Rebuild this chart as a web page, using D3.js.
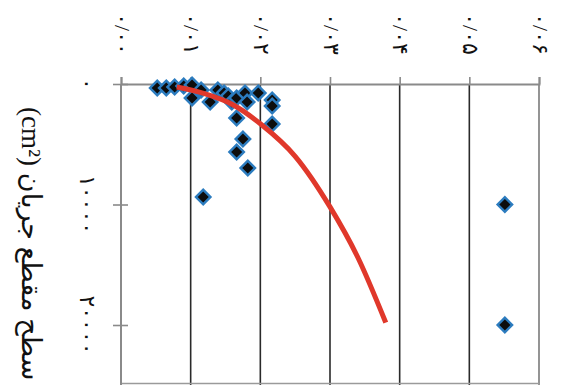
<!DOCTYPE html>
<html>
<head>
<meta charset="utf-8">
<script src="https://cdn.jsdelivr.net/npm/d3@7/dist/d3.min.js"></script>
<style>
  html, body { margin: 0; padding: 0; background: #fff; }
  svg { display: block; }
</style>
</head>
<body>
<svg id="chart" width="561" height="385"></svg>
<script>
// Velocity-like quantity (horizontal) against flow cross-section area (vertical, cm²)
const xTicks = [0, 0.01, 0.02, 0.03, 0.04, 0.05, 0.06];
const xTickLabels = ["۰/۰۰", "۰/۰۱", "۰/۰۲", "۰/۰۳", "۰/۰۴", "۰/۰۵", "۰/۰۶"];
const yTicks = [0, 10000, 20000];
const yTickLabels = ["۰", "۱۰۰۰۰", "۲۰۰۰۰"];
const yTitle = "سطح مقطع جریان (cm²)";

// measured points
const pointX = [0.0052, 0.0065, 0.0077, 0.0090, 0.0102, 0.0102, 0.0115, 0.0128, 0.0139,
                0.0148, 0.0154, 0.0159, 0.0166, 0.0178, 0.0181, 0.0197, 0.0217, 0.0217,
                0.0166, 0.0217, 0.0175, 0.0166, 0.0182, 0.0118, 0.0551, 0.0551];
const pointY = [330, 330, 250, 170, 80, 1160, 500, 1490, 500,
                750, 1000, 1490, 1160, 750, 1490, 750, 1330, 1830,
                2820, 3320, 4560, 5640, 6970, 9380, 10000, 20000];

// fitted trend line
const curveX = [0.0080, 0.0120, 0.0160, 0.0200, 0.0250, 0.0300, 0.0340, 0.0380];
const curveY = [250, 800, 1700, 3300, 6000, 10200, 14400, 19800];

const svg = d3.select("#chart");
const W = 561, H = 385;

const x = d3.scaleLinear().domain([0, 0.06]).range([121, 539]);
const y = d3.scaleLinear().domain([0, 25000]).range([84, 385.25]);

const labelFont = "'Liberation Serif', 'DejaVu Sans', serif";

// vertical grid lines
svg.append("g")
  .selectAll("line")
  .data(xTicks.slice(1, -1))
  .join("line")
  .attr("x1", d => x(d)).attr("x2", d => x(d))
  .attr("y1", y(0)).attr("y2", H)
  .attr("stroke", "#2a2a2a")
  .attr("stroke-width", 1.6);

// right and bottom frame edges
svg.append("line")
  .attr("x1", x(0.06)).attr("x2", x(0.06))
  .attr("y1", y(0)).attr("y2", H)
  .attr("stroke", "#7a7a7a").attr("stroke-width", 1.6);
svg.append("line")
  .attr("x1", x(0)).attr("x2", x(0.06))
  .attr("y1", H - 1.5).attr("y2", H - 1.5)
  .attr("stroke", "#9a9a9a").attr("stroke-width", 1.6);

// top axis (value axis drawn along the top)
const xAxis = d3.axisTop(x)
  .tickValues(xTicks)
  .tickSize(7)
  .tickFormat("");
const gx = svg.append("g")
  .attr("transform", `translate(0,${y(0)})`)
  .call(xAxis);
gx.select(".domain").attr("stroke", "#8a8a8a").attr("stroke-width", 2);
gx.selectAll(".tick line").attr("stroke", "#8a8a8a").attr("stroke-width", 1.6);

// left axis
const yAxis = d3.axisLeft(y)
  .tickValues(yTicks)
  .tickSize(8)
  .tickFormat("");
const gy = svg.append("g")
  .attr("transform", `translate(${x(0)},0)`)
  .call(yAxis);
gy.select(".domain").attr("stroke", "#8a8a8a").attr("stroke-width", 2)
  .attr("d", `M0,${y(0)}V${H}`);
gy.selectAll(".tick line").attr("stroke", "#8a8a8a").attr("stroke-width", 1.6)
  .attr("x1", 7).attr("x2", -8);

// top tick labels, rotated
svg.append("g")
  .selectAll("text")
  .data(xTicks)
  .join("text")
  .attr("transform", d => `translate(${x(d) + 1},34) rotate(90)`)
  .attr("text-anchor", "middle")
  .attr("dominant-baseline", "central")
  .attr("font-family", labelFont)
  .attr("font-size", 22)
  .attr("fill", "#111")
  .text((d, i) => xTickLabels[i]);

// left tick labels, rotated
svg.append("g")
  .selectAll("text")
  .data(yTicks)
  .join("text")
  .attr("transform", d => `translate(87,${y(d)}) rotate(90)`)
  .attr("text-anchor", "middle")
  .attr("dominant-baseline", "central")
  .attr("font-family", labelFont)
  .attr("font-size", 22)
  .attr("fill", "#111")
  .text((d, i) => yTickLabels[i]);

// axis title
const title = svg.append("text")
  .attr("direction", "rtl")
  .attr("text-anchor", "middle")
  .attr("dominant-baseline", "central")
  .attr("font-family", labelFont)
  .attr("font-size", 27)
  .attr("fill", "#111")
  .text(yTitle);
const tLen = title.node().getComputedTextLength();
title.attr("transform", `translate(31,${107 + tLen / 2}) rotate(90)`);

// diamond markers
const diamond = d3.symbol().type(d3.symbolSquare).size(105);
svg.append("g")
  .selectAll("path")
  .data(pointX)
  .join("path")
  .attr("d", diamond)
  .attr("transform", (d, i) => `translate(${x(d)},${y(pointY[i])}) rotate(45)`)
  .attr("fill", "#0d0d0d")
  .attr("stroke", "#2c7cbf")
  .attr("stroke-width", 2.4);

// trend line, drawn over the markers
const line = d3.line()
  .x((d, i) => x(curveX[i]))
  .y((d, i) => y(curveY[i]))
  .curve(d3.curveMonotoneX);
svg.append("path")
  .datum(curveX)
  .attr("d", line)
  .attr("fill", "none")
  .attr("stroke", "#e0382b")
  .attr("stroke-width", 5);
</script>
</body>
</html>
